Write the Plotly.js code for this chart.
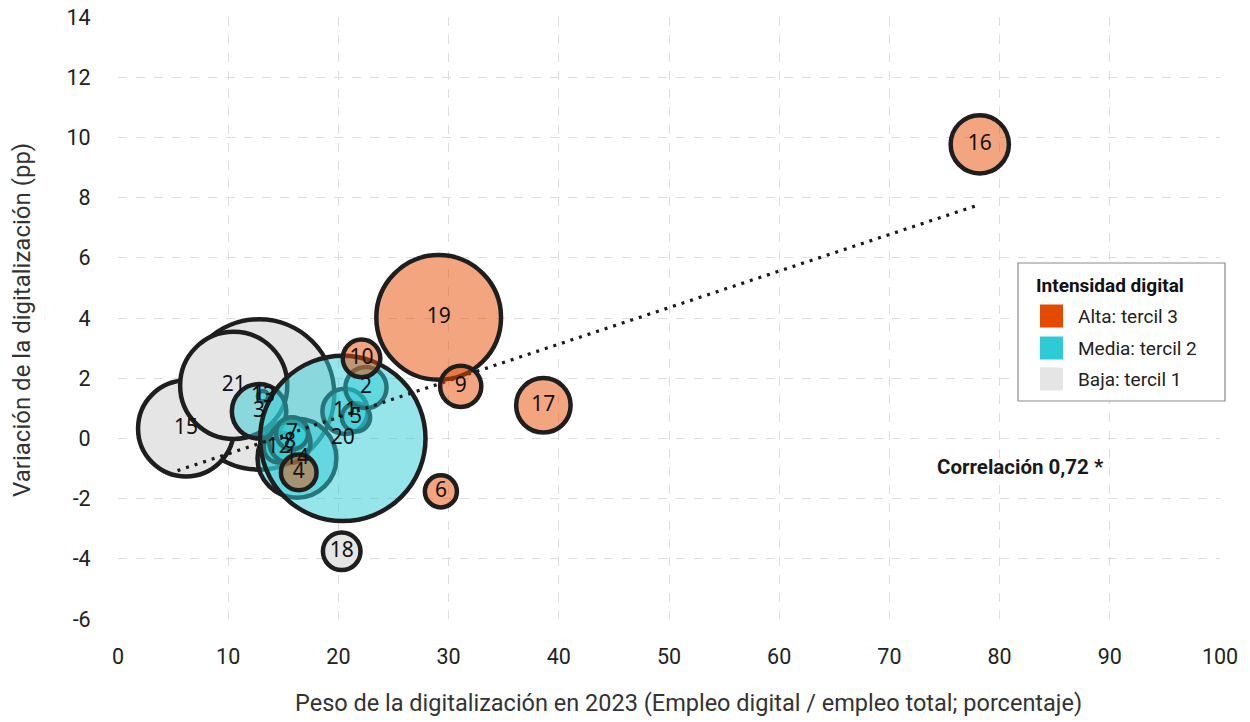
<!DOCTYPE html>
<html><head><meta charset="utf-8">
<script src="https://cdn.plot.ly/plotly-3.0.1.min.js"></script>
<style>body{margin:0;background:#fff}#chart{width:1250px;height:722px}</style>
</head><body><div id="chart"></div>
<script>
// Data (listed in drawing order)
const etiquetas  = ['1','15','21','18', '13','14','3','12','8','7','11','5','2','20', '19','16','17','9','10','6','4'];
const peso2023   = [12.8, 6.17, 10.5, 20.3, 13.16, 16.24, 12.8, 14.6, 15.6, 15.8, 20.6, 21.6, 22.5, 20.4, 29.1, 78.2, 38.6, 31.1, 22.1, 29.3, 16.4];
const variacion  = [1.46, 0.33, 1.76, -3.75, 1.40, -0.66, 0.90, -0.30, -0.13, 0.17, 0.90, 0.70, 1.69, 0.0, 4.02, 9.77, 1.10, 1.73, 2.66, -1.76, -1.13];
const empleo     = [64, 26, 32.5, 4, 0.3, 17.6, 8.4, 2.6, 4.8, 2.9, 5.8, 2.25, 4.8, 77.4, 44, 9.6, 8.4, 4.8, 4, 2.9, 3.6];
const intensidad = ['Baja','Baja','Baja','Baja','Media','Media','Media','Media','Media','Media','Media','Media','Media','Media','Alta','Alta','Alta','Alta','Alta','Alta','Alta'];
const nombresLeyenda = ['Alta: tercil 3','Media: tercil 2','Baja: tercil 1'];
const tendenciaX = [5.4, 78.2];
const tendenciaY = [-1.07, 7.77];
const yTicks = [-6,-4,-2,0,2,4,6,8,10,12,14];
const yTickTexto = ['-6','-4','-2','0','2','4','6','8','10','12','14'];
const xTicks = [0,10,20,30,40,50,60,70,80,90,100];
const tituloX = 'Peso de la digitalización en 2023 (Empleo digital / empleo total; porcentaje)';
const tituloY = 'Variación de la digitalización (pp)';
const correlacion = 'Correlación 0,72 *';

const colores = {Alta:'#E54B00', Media:'#2ECBD6', Baja:'#E5E5E5'};
const rellenos = {Alta:'rgba(229,75,0,0.5)', Media:'rgba(46,203,214,0.5)', Baja:'rgba(229,229,229,1)'};
const SIZEREF = 0.00566;

function bubbleTrace(g){
  const idx = etiquetas.map((_,i)=>i).filter(i=>intensidad[i]===g);
  return {
    type:'scatter', mode:'markers', name:g, showlegend:false, hoverinfo:'skip',
    x: idx.map(i=>peso2023[i]), y: idx.map(i=>variacion[i]),
    marker:{size: idx.map(i=>empleo[i]), sizemode:'area', sizeref:SIZEREF, opacity:1,
      color: rellenos[g], line:{color:'#1e1e1e', width:4.5}}
  };
}
const traces = [bubbleTrace('Baja'), bubbleTrace('Media'),
  {type:'scatter', mode:'lines', x:tendenciaX, y:tendenciaY, showlegend:false, hoverinfo:'skip',
   line:{color:'#1a1a1a', width:3.2, dash:'3px,6px'}},
  bubbleTrace('Alta'),
  {type:'scatter', mode:'text', x:peso2023, y:variacion, text:etiquetas, textposition:'middle center',
   showlegend:false, hoverinfo:'skip', textfont:{family:'Noto Sans', size:21, color:'#111'}}
];

// manual legend
const px2x = p => (p-118)/1102, py2y = p => (619-p)/602;
const shapes = [{type:'rect', xref:'paper', yref:'paper', x0:px2x(1018), x1:px2x(1225), y0:py2y(401), y1:py2y(263),
  line:{color:'#8a8a8a', width:1.2}, fillcolor:'#fff'}];
const annotations = [{xref:'paper', yref:'paper', x:px2x(1034), y:py2y(285), xanchor:'left', yanchor:'middle',
  text:'<b>Intensidad digital</b>', showarrow:false, font:{family:'Roboto', size:19, color:'#111'}}];
const legendOrder = ['Alta','Media','Baja'];
const legendY = [316, 348, 379];
legendOrder.forEach((g,k)=>{
  shapes.push({type:'rect', xref:'paper', yref:'paper', x0:px2x(1040), x1:px2x(1063),
    y0:py2y(legendY[k]+11.5), y1:py2y(legendY[k]-11.5), line:{width:0}, fillcolor:colores[g]});
  annotations.push({xref:'paper', yref:'paper', x:px2x(1076), y:py2y(legendY[k]), xanchor:'left', yanchor:'middle',
    text:nombresLeyenda[k], showarrow:false, font:{family:'Roboto', size:19, color:'#222'}});
});
annotations.push({xref:'x', yref:'y', x:81.9, y:-0.96, text:'<b>'+correlacion+'</b>', showarrow:false,
  font:{family:'Roboto', size:20.5, color:'#1a1a1a'}, xanchor:'center', yanchor:'middle'});
// axis titles
annotations.push({xref:'paper', yref:'paper', x:px2x(688), y:py2y(703), xanchor:'center', yanchor:'middle',
  text:tituloX, showarrow:false, font:{family:'Roboto', size:23.5, color:'#333'}});
annotations.push({xref:'paper', yref:'paper', x:px2x(22), y:py2y(320), xanchor:'center', yanchor:'middle',
  text:tituloY, textangle:-90, showarrow:false, font:{family:'Roboto', size:24, color:'#333'}});

const gridStyle = {showgrid:true, gridcolor:'#dcdcdc', gridwidth:1, griddash:'dash', zeroline:false, showline:false,
  ticks:'outside', tickcolor:'rgba(0,0,0,0)', tickfont:{family:'Roboto', size:21.5, color:'#222'}};
const layout = {
  width:1250, height:722, paper_bgcolor:'#fff', plot_bgcolor:'#fff',
  margin:{l:118, r:30, t:17, b:103},
  font:{family:'Roboto'},
  xaxis:Object.assign({}, gridStyle, {range:[0,100], tickmode:'array', tickvals:xTicks, ticklen:18, automargin:false}),
  yaxis:Object.assign({}, gridStyle, {range:[-6,14], tickmode:'array', tickvals:yTicks, ticktext:yTickTexto, ticklen:22, automargin:false}),
  shapes:shapes, annotations:annotations, showlegend:false
};
Plotly.newPlot('chart', traces, layout, {displayModeBar:false, staticPlot:true});
</script></body></html>
